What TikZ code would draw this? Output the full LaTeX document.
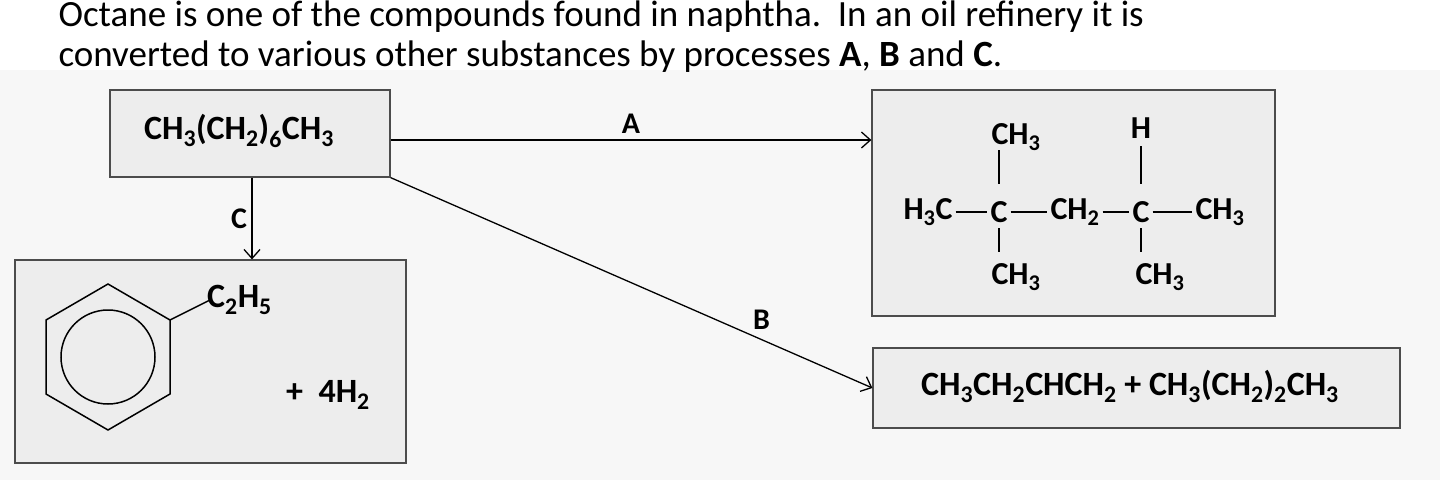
\documentclass[tikz,border=0pt]{standalone}
\usepackage{fontspec}
\setmainfont{Carlito}
\usetikzlibrary{arrows.meta}
\begin{document}
\begin{tikzpicture}[x=1pt,y=-1pt,
  box/.style={draw=black!70,fill=black!7,line width=1.2pt,inner sep=0pt},
  chem/.style={font=\fontsize{34}{38}\selectfont\bfseries,inner sep=1pt},
  schem/.style={font=\fontsize{32}{36}\selectfont\bfseries,inner sep=3pt},
  lab/.style={font=\fontsize{30}{34}\selectfont\bfseries},
  arr/.style={line width=1.3pt,-{Straight Barb[length=9pt,width=16pt]}},
  bond/.style={line width=1.6pt}]
\useasboundingbox (0,0) rectangle (1440,480);
\fill[black!3] (0,70) rectangle (1440,480);
\node[anchor=west,font=\fontsize{37}{42}\selectfont] (t1) at (55,17) {Octane is one of the compounds found in naphtha.\ \ In an oil refinery it is};
\node[anchor=west,font=\fontsize{37}{42}\selectfont] (t2) at (55,57) {converted to various other substances by processes \textbf{A}, \textbf{B} and \textbf{C}.};
% boxes
\node[box,minimum width=280pt,minimum height=87pt] (oct) at (250,133.5) {};
\node[chem] at (239,131) {CH\textsubscript{3}(CH\textsubscript{2})\textsubscript{6}CH\textsubscript{3}};
\node[box,minimum width=403pt,minimum height=226pt] (pa) at (1073.5,203) {};
\node[box,minimum width=527pt,minimum height=80pt] (pb) at (1136.5,388) {};
\node[chem] at (1130,386) {CH\textsubscript{3}CH\textsubscript{2}CHCH\textsubscript{2} + CH\textsubscript{3}(CH\textsubscript{2})\textsubscript{2}CH\textsubscript{3}};
\node[box,minimum width=391pt,minimum height=203pt] (pc) at (210.5,361.5) {};
% arrows
\coordinate (aS) at (oct.east |- 0,140);
\draw[arr] (aS) -- (pa.west |- aS) node[midway,above=3pt,lab] {A};
\draw[arr] (oct.south east) -- (pb.west) node[pos=0.77,above=6pt,lab] {B};
\draw[arr] (oct.south -| 252,0) -- (pc.north -| 252,0) node[midway,left=1pt,lab] {C};
% structural formula
\node[schem] (h3c) at (928,212) {H\textsubscript{3}C};
\node[schem] (c1) at (999,212) {C};
\node[schem] (ch2) at (1075,212) {CH\textsubscript{2}};
\node[schem] (c2) at (1141,212) {C};
\node[schem] (ch3r) at (1220,212) {CH\textsubscript{3}};
\node[schem] (t1m) at (1016,137) {CH\textsubscript{3}};
\node[schem] (th) at (1141,128) {H};
\node[schem] (b1m) at (1016,277) {CH\textsubscript{3}};
\node[schem] (b2m) at (1160,277) {CH\textsubscript{3}};
\draw[bond] (h3c.east) -- (c1.west);
\draw[bond] (c1.east) -- (ch2.west);
\draw[bond] (ch2.east) -- (c2.west);
\draw[bond] (c2.east) -- (ch3r.west);
\draw[bond] (999,150) -- (999,184);
\draw[bond] (999,228) -- (999,252);
\draw[bond] (1141,146) -- (1141,184);
\draw[bond] (1141,228) -- (1141,252);
% benzene
\draw[line width=1.5pt] (108,284) -- (170,320) -- (170,394) -- (108,430) -- (46,394) -- (46,320) -- cycle;
\draw[line width=1.5pt] (108,357) circle (47);
\draw[line width=1.5pt] (170,320) -- (210,300);
\node[chem,anchor=west] (et) at (206,300) {C\textsubscript{2}H\textsubscript{5}};
\node[chem] (h2) at (328,395) {+\ \ 4H\textsubscript{2}};
\end{tikzpicture}
\end{document}
